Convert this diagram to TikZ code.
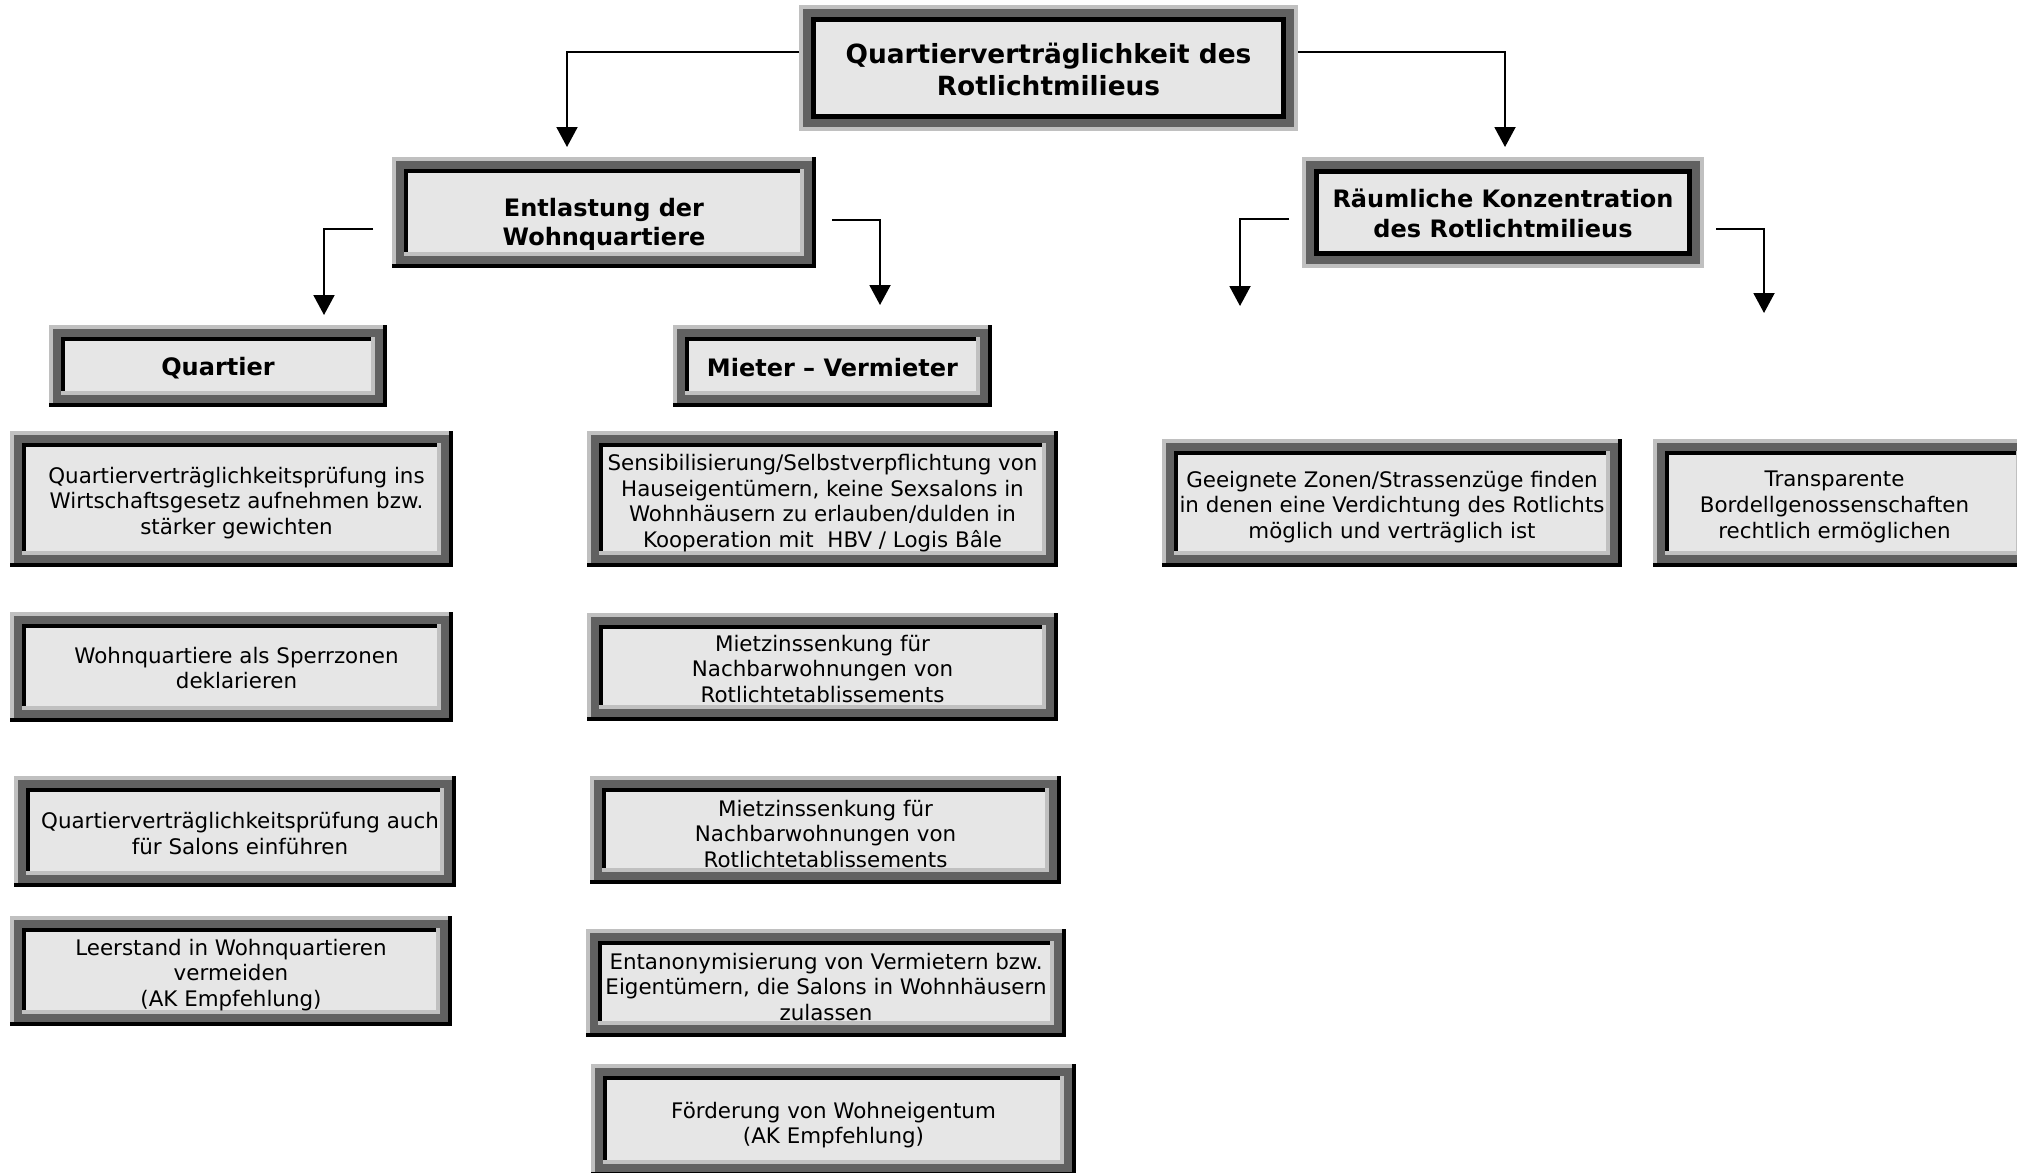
\documentclass[tikz,border=0pt]{standalone}
\usepackage{fontspec}
\setmainfont{DejaVu Sans}
\usetikzlibrary{arrows.meta}
\definecolor{bvlight}{HTML}{C0C0C0}
\definecolor{bvdark}{HTML}{616161}
\definecolor{bvfill}{HTML}{E6E6E6}
\tikzset{
  txt/.style={align=center, font=\fontsize{21.4}{25.8}\selectfont, inner sep=0pt, yshift=-4pt},
  btxt/.style={align=center, font=\fontsize{24}{29.5}\selectfont\bfseries, inner sep=0pt, yshift=-1pt},
  ttxt/.style={align=center, font=\fontsize{26.4}{32}\selectfont\bfseries, inner sep=0pt, yshift=-1pt},
  arr/.style={line width=2pt, -{Triangle[width=21pt,length=20pt]}},
  anchorbox/.style={inner sep=0pt, outer sep=0pt}
}
% sub box: name x1 y1 x2 y2
\newcommand\subbox[5]{%
  \fill[black] (#2,#3) rectangle (#4,#5);
  \fill[bvlight] (#2,#3) rectangle ({#4-4},{#5-4});
  \fill[bvdark] ({#2+4},{#3+4}) rectangle ({#4-4},{#5-4});
  \fill[bvlight] ({#2+12},{#3+12}) rectangle ({#4-12},{#5-12});
  \fill[black] ({#2+12},{#3+12}) rectangle ({#4-16},{#5-16});
  \fill[bvfill] ({#2+16},{#3+16}) rectangle ({#4-16},{#5-16});
  \node[anchorbox, minimum width={#4-#2}, minimum height={#5-#3}] (#1) at ({(#2+#4)/2},{(#3+#5)/2}) {};
}
% main box: name x1 y1 x2 y2
\newcommand\mainbox[5]{%
  \fill[bvlight] (#2,#3) rectangle (#4,#5);
  \fill[bvdark] ({#2+4},{#3+4}) rectangle ({#4-4},{#5-4});
  \fill[black] ({#2+12},{#3+12}) rectangle ({#4-12},{#5-12});
  \fill[bvfill] ({#2+17},{#3+17}) rectangle ({#4-17},{#5-17});
  \node[anchorbox, minimum width={#4-#2}, minimum height={#5-#3}] (#1) at ({(#2+#4)/2},{(#3+#5)/2}) {};
}
\begin{document}
\begin{tikzpicture}[x=1pt,y=-1pt]
\useasboundingbox (0,0) rectangle (2017,1172);
\clip (0,0) rectangle (2017,1172);
\fill[white] (0,0) rectangle (2017,1172);

% level 0
\mainbox{top}{799}{5}{1298}{131}
\node[ttxt] at (top) {Quartierverträglichkeit des\\Rotlichtmilieus};

% level 1
\subbox{ent}{392}{157}{816}{268}
\node[btxt] at ([yshift=-11pt]ent) {Entlastung der\\Wohnquartiere};
\mainbox{raum}{1302}{157}{1704}{268}
\node[btxt] at (raum) {Räumliche Konzentration\\des Rotlichtmilieus};

% level 2
\subbox{quart}{49}{325}{387}{407}
\node[btxt] at ([yshift=-1pt]quart) {Quartier};
\subbox{miet}{673}{325}{992}{407}
\node[btxt] at ([yshift=-1pt]miet) {Mieter – Vermieter};

% left column
\subbox{la}{10}{431}{453}{567}
\node[txt] at ([xshift=5pt]la) {Quartierverträglichkeitsprüfung ins\\Wirtschaftsgesetz aufnehmen bzw.\\stärker gewichten};
\subbox{lb}{10}{612}{453}{722}
\node[txt] at ([xshift=5pt,yshift=3pt]lb) {Wohnquartiere als Sperrzonen\\deklarieren};
\subbox{lc}{14}{776}{456}{887}
\node[txt] at ([xshift=5pt,yshift=2pt]lc) {Quartierverträglichkeitsprüfung auch\\für Salons einführen};
\subbox{ld}{10}{916}{452}{1026}
\node[txt] at (ld) {Leerstand in Wohnquartieren\\vermeiden\\(AK Empfehlung)};

% middle column
\subbox{ma}{587}{431}{1058}{567}
\node[txt] at (ma) {Sensibilisierung/Selbstverpflichtung von\\Hauseigentümern, keine Sexsalons in\\Wohnhäusern zu erlauben/dulden in\\Kooperation mit\ \ HBV / Logis Bâle};
\subbox{mb}{587}{613}{1058}{721}
\node[txt] at ([yshift=2pt]mb) {Mietzinssenkung für\\Nachbarwohnungen von\\Rotlichtetablissements};
\subbox{mc}{590}{776}{1061}{884}
\node[txt] at (mc) {Mietzinssenkung für\\Nachbarwohnungen von\\Rotlichtetablissements};
\subbox{md}{586}{929}{1066}{1037}
\node[txt] at (md) {Entanonymisierung von Vermietern bzw.\\Eigentümern, die Salons in Wohnhäusern\\zulassen};
\subbox{me}{591}{1064}{1076}{1176}
\node[txt] at ([yshift=-1pt]me) {Förderung von Wohneigentum\\(AK Empfehlung)};

% right column
\subbox{ra}{1162}{439}{1622}{567}
\node[txt] at (ra) {Geeignete Zonen/Strassenzüge finden\\in denen eine Verdichtung des Rotlichts\\möglich und verträglich ist};
\subbox{rb}{1653}{439}{2032}{567}
\node[txt] at ([xshift=-8pt]rb) {Transparente\\Bordellgenossenschaften\\rechtlich ermöglichen};

% connectors
\coordinate (t1) at (567,147);
\coordinate (t2) at (1505,147);
\draw[arr] ([yshift=16pt]top.west) -| (t1);
\draw[arr] ([yshift=16pt]top.east) -| (t2);

\coordinate (s3) at (373,229);
\coordinate (e3) at (324,315);
\draw[arr] (s3) -| (e3);
\coordinate (s4) at (832,220);
\coordinate (e4) at (880,305);
\draw[arr] (s4) -| (e4);
\coordinate (s5) at (1289,219);
\coordinate (e5) at (1240,306);
\draw[arr] (s5) -| (e5);
\coordinate (s6) at (1716,229);
\coordinate (e6) at (1764,313);
\draw[arr] (s6) -| (e6);
\end{tikzpicture}
\end{document}
